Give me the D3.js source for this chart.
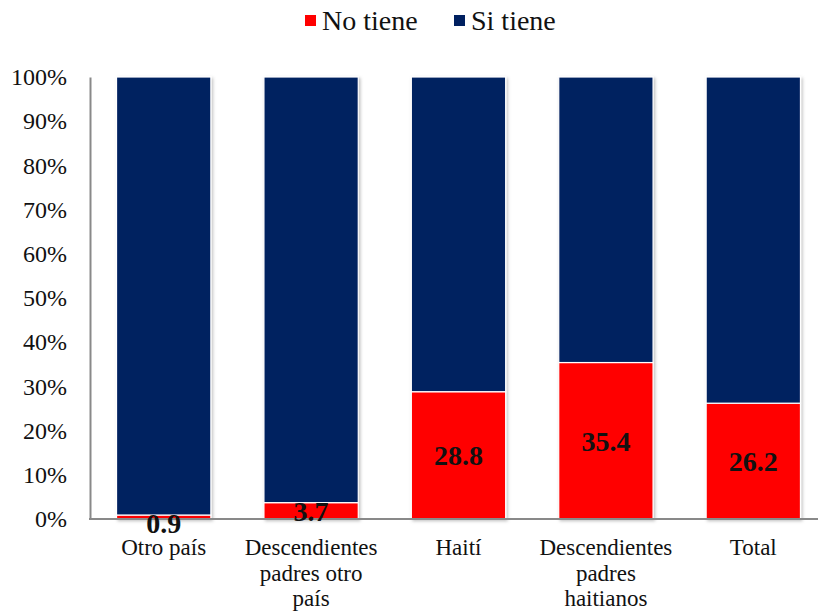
<!DOCTYPE html>
<html><head><meta charset="utf-8">
<script src="https://cdn.jsdelivr.net/npm/d3@7"></script>
<style>body{margin:0;background:#fff}svg{display:block}</style>
</head><body><svg id="c" width="818" height="611"></svg>
<script>
const FONT = '"Liberation Serif", "Times New Roman", serif';
const categories = [["Otro país"],["Descendientes","padres otro","país"],["Haití"],["Descendientes","padres","haitianos"],["Total"]];
const noTiene = [0.9, 3.7, 28.8, 35.4, 26.2];
const siTiene = noTiene.map(v => 100 - v);
const seriesNames = ["No tiene","Si tiene"];
const colors = ["#FF0000","#002060"];
const yTicks = [0,10,20,30,40,50,60,70,80,90,100];

const svg = d3.select("#c");
const defs = svg.append("defs");
const f = defs.append("filter").attr("id","sh").attr("x","-10%").attr("y","-10%").attr("width","130%").attr("height","130%");
f.append("feDropShadow").attr("dx",1.5).attr("dy",1.5).attr("stdDeviation",1.5).attr("flood-color","#000").attr("flood-opacity",0.25);

const x = d3.scaleBand().domain(d3.range(categories.length)).range([90, 827]).paddingInner(0.36).paddingOuter(0.18);
const y = d3.scaleLinear().domain([0,100]).range([519, 77]);

// bars
const data = categories.map((c,i)=>({i, segs:[{k:0,y0:0,y1:noTiene[i]},{k:1,y0:noTiene[i],y1:noTiene[i]+siTiene[i]}]}));
const g = svg.append("g");
data.forEach(d=>{
  const bg = g.append("g").attr("filter","url(#sh)");
  bg.selectAll("rect").data(d.segs).join("rect")
    .attr("x", x(d.i)).attr("width", x.bandwidth())
    .attr("y", s=>y(s.y1)).attr("height", s=>y(s.y0)-y(s.y1))
    .attr("fill", s=>colors[s.k]).attr("stroke","#fff").attr("stroke-width",1.2);
});

// axes
const yAxis = d3.axisLeft(y).tickValues(yTicks).tickFormat(d=>d+"%").tickSize(0).tickPadding(23);
const ya = svg.append("g").attr("transform","translate(90,0)").call(yAxis);
ya.attr("font-family", null);
ya.select(".domain").attr("stroke","#898989").attr("stroke-width",2);
ya.selectAll("text").attr("font-size",24).attr("fill","#111").style("font-family",FONT);

svg.append("line").attr("x1",89).attr("x2",818).attr("y1",y(0)).attr("y2",y(0)).attr("stroke","#898989").attr("stroke-width",2);

// labels
svg.append("g").selectAll("text").data(noTiene).join("text")
  .attr("x",(v,i)=>x(i)+x.bandwidth()/2)
  .attr("y",v=>{ const c=(y(0)+y(v))/2; return (y(0)-y(v))<10 ? y(0)+4 : c; })
  .attr("dy","0.35em").attr("text-anchor","middle")
  .attr("font-size",28).attr("font-weight","bold").attr("fill","#111").style("font-family",FONT)
  .text(v=>v.toFixed(1));

// categories
const cat = svg.append("g").selectAll("text").data(categories).join("text")
  .attr("text-anchor","middle").attr("font-size",23).attr("fill","#111").style("font-family",FONT);
cat.each(function(lines,i){
  d3.select(this).selectAll("tspan").data(lines).join("tspan")
    .attr("x", x(i)+x.bandwidth()/2).attr("y",(l,j)=>555+j*25.5).text(l=>l);
});

// legend
const leg = svg.append("g");
const lx = d3.scaleOrdinal().domain(seriesNames).range([305,454]);
seriesNames.forEach((n,i)=>{
  leg.append("rect").attr("x",lx(n)).attr("y",15).attr("width",11).attr("height",11).attr("fill",colors[i]);
  leg.append("text").attr("x",lx(n)+17).attr("y",30).attr("font-size",28).attr("fill","#111").style("font-family",FONT).text(n);
});
</script></body></html>
